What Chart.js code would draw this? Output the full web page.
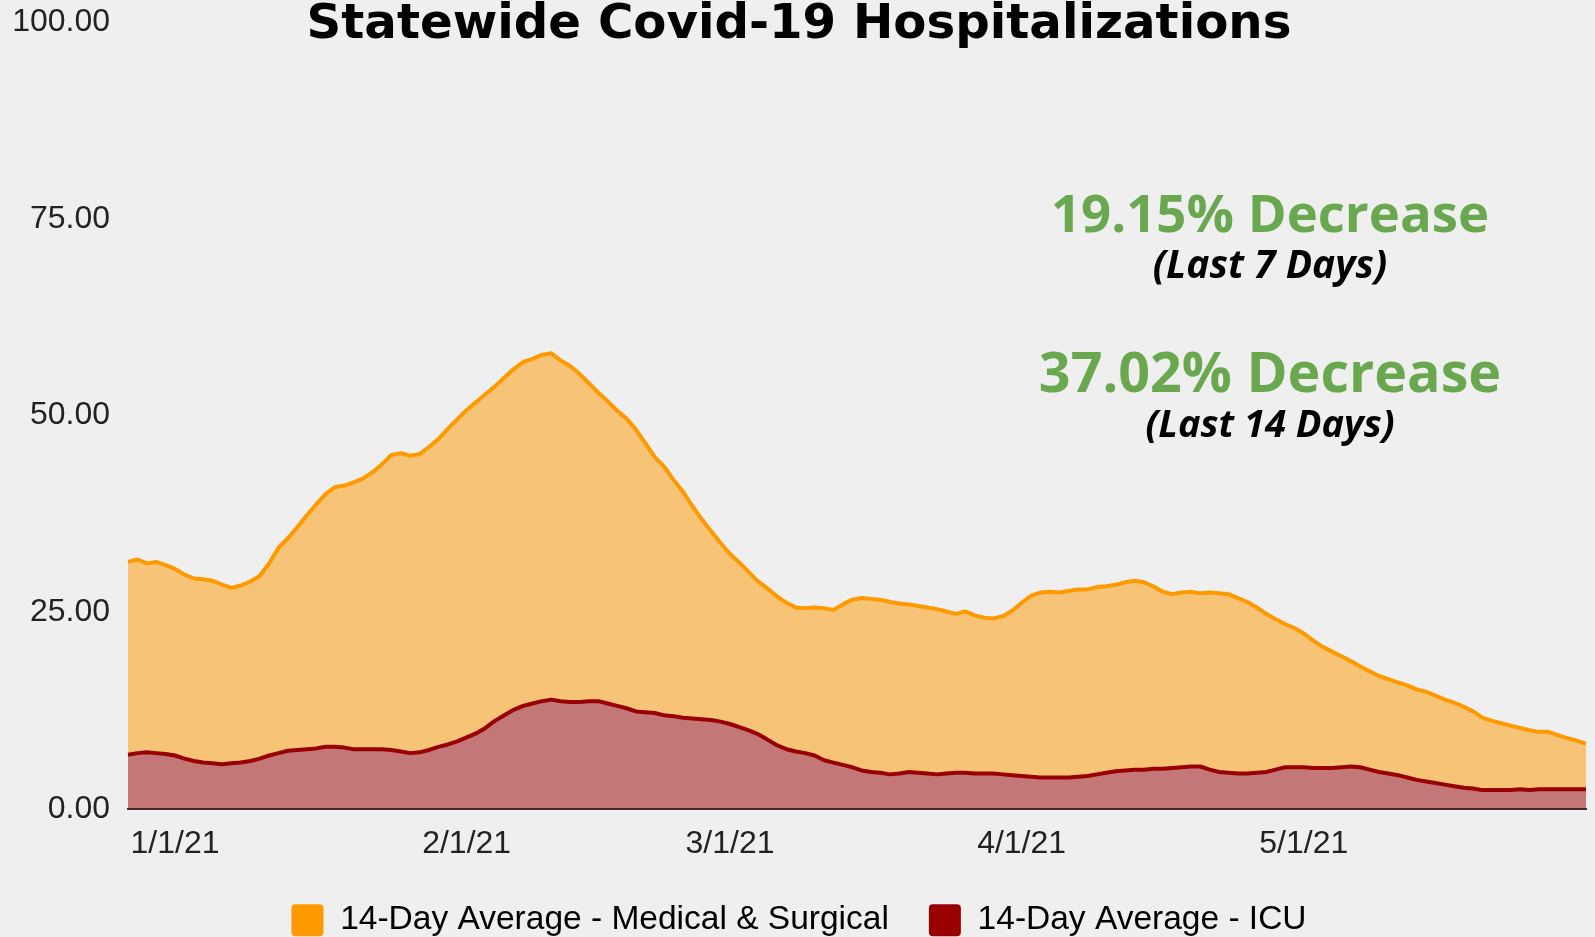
<!DOCTYPE html>
<html>
<head>
<meta charset="utf-8">
<script src="https://cdn.jsdelivr.net/npm/chart.js@4.4.1/dist/chart.umd.min.js"></script>
<style>
  html, body { margin: 0; padding: 0; background: #efefef; }
  #wrap { width: 1595px; height: 937px; }
</style>
</head>
<body>
<div id="wrap"><canvas id="c" width="1595" height="937"></canvas></div>
<script>
// ---- Data ----
const startDate = [2020, 11, 27];   // 12/27/20, one point per day
const tickLabels = ['1/1/21', '2/1/21', '3/1/21', '4/1/21', '5/1/21'];
const yTicks = [0, 25, 50, 75, 100];
const seriesNames = ['14-Day Average - Medical & Surgical', '14-Day Average - ICU'];
const titleText = 'Statewide Covid-19 Hospitalizations';
const noteLines = ['19.15% Decrease', '(Last 7 Days)', '37.02% Decrease', '(Last 14 Days)'];

// upper (orange) line: 14-Day Average - Medical & Surgical (top of stacked area)
const medSurg = [
  31.4,31.7,31.2,31.4,31.0,30.5,29.8,29.3,29.2,29.0,
  28.5,28.1,28.4,28.9,29.6,31.2,33.2,34.4,35.8,37.3,
  38.7,40.0,40.9,41.1,41.5,42.0,42.8,43.8,45.0,45.2,
  44.9,45.1,46.0,47.0,48.3,49.5,50.7,51.7,52.7,53.7,
  54.8,55.9,56.8,57.2,57.7,57.9,57.0,56.3,55.3,54.1,
  52.9,51.8,50.6,49.6,48.2,46.5,44.7,43.5,41.8,40.3,
  38.5,36.8,35.3,33.8,32.4,31.3,30.1,28.9,28.0,27.0,
  26.2,25.6,25.5,25.6,25.5,25.3,26.0,26.6,26.8,26.7,
  26.6,26.3,26.1,26.0,25.8,25.6,25.4,25.1,24.8,25.1,
  24.6,24.3,24.2,24.5,25.2,26.2,27.1,27.5,27.6,27.5,
  27.7,27.9,27.9,28.2,28.3,28.5,28.8,29.0,28.8,28.3,
  27.6,27.3,27.5,27.6,27.4,27.5,27.4,27.3,26.8,26.3,
  25.6,24.8,24.1,23.5,23.0,22.3,21.4,20.6,20.0,19.4,
  18.8,18.1,17.5,16.9,16.5,16.1,15.7,15.2,14.9,14.4,
  13.9,13.5,13.0,12.4,11.6,11.2,10.9,10.6,10.3,10.0,
  9.8,9.8,9.4,9.0,8.7,8.3
];
// lower (dark red) line: 14-Day Average - ICU
const icu = [
  6.9,7.1,7.2,7.1,7.0,6.8,6.4,6.1,5.9,5.8,
  5.7,5.8,5.9,6.1,6.4,6.8,7.1,7.4,7.5,7.6,
  7.7,7.9,7.9,7.8,7.6,7.6,7.6,7.6,7.5,7.3,
  7.1,7.2,7.5,7.9,8.2,8.6,9.1,9.6,10.3,11.2,
  11.9,12.6,13.1,13.4,13.7,13.9,13.7,13.6,13.6,13.7,
  13.7,13.4,13.1,12.8,12.4,12.3,12.2,11.9,11.8,11.6,
  11.5,11.4,11.3,11.1,10.8,10.4,10.0,9.5,8.8,8.1,
  7.6,7.3,7.1,6.8,6.2,5.9,5.6,5.3,4.9,4.7,
  4.6,4.4,4.5,4.7,4.6,4.5,4.4,4.5,4.6,4.6,
  4.5,4.5,4.5,4.4,4.3,4.2,4.1,4.0,4.0,4.0,
  4.0,4.1,4.2,4.4,4.6,4.8,4.9,5.0,5.0,5.1,
  5.1,5.2,5.3,5.4,5.4,5.0,4.7,4.6,4.5,4.5,
  4.6,4.7,5.0,5.3,5.3,5.3,5.2,5.2,5.2,5.3,
  5.4,5.3,5.0,4.7,4.5,4.3,4.0,3.7,3.5,3.3,
  3.1,2.9,2.7,2.6,2.4,2.4,2.4,2.4,2.5,2.4,
  2.5,2.5,2.5,2.5,2.5,2.5
];

// category labels: one per day
const categories = [];
{
  const d = new Date(startDate[0], startDate[1], startDate[2]);
  for (let i = 0; i < medSurg.length; i++) {
    categories.push((d.getMonth() + 1) + '/' + d.getDate() + '/' + String(d.getFullYear()).slice(2));
    d.setDate(d.getDate() + 1);
  }
}

// ---- Styling ----
const ORANGE = '#ff9900', DARKRED = '#990000', GREEN = '#6aa84f', BG = '#efefef';
const AXIS_FONT = 'Liberation Sans, Arial, sans-serif';
const TITLE_FONT = '"DejaVu Sans", sans-serif';
const NOTE_FONT = '"Open Sans", "Noto Sans", sans-serif';

function fitSize(text, weight, style, family, targetWidth) {
  const c = document.createElement('canvas').getContext('2d');
  c.font = style + ' ' + weight + ' 100px ' + family;
  return 100 * targetWidth / c.measureText(text).width;
}
const PLOT_TOP = 22, PLOT_BOTTOM = 809;
const titleSize = fitSize(titleText, 700, 'normal', TITLE_FONT, 985);
const titlePadTop = Math.round(25 - titleSize / 2);
const titlePadBottom = PLOT_TOP - titleSize - titlePadTop;

const LEGEND_PAD = 40, LEGEND_FONT = 33.5;
const legendHeight = Math.max(LEGEND_FONT, 32) + LEGEND_PAD + 10;
const legendTop = 937 + 10 - legendHeight;

const bgPlugin = {
  id: 'bg',
  beforeDraw(chart) {
    const ctx = chart.ctx;
    ctx.save();
    ctx.fillStyle = BG;
    ctx.fillRect(0, 0, chart.width, chart.height);
    ctx.restore();
  }
};

const notesPlugin = {
  id: 'notes',
  afterDraw(chart) {
    const ctx = chart.ctx;
    const spec = [
      { color: GREEN, style: 'normal', width: 438, base: 232 },
      { color: '#000', style: 'italic', width: 234, base: 278 },
      { color: GREEN, style: 'normal', width: 462, base: 392 },
      { color: '#000', style: 'italic', width: 249, base: 437 }
    ];
    ctx.save();
    ctx.textAlign = 'center';
    ctx.textBaseline = 'alphabetic';
    noteLines.forEach((t, i) => {
      const s = spec[i];
      const size = fitSize(t, 700, s.style, NOTE_FONT, s.width);
      ctx.font = s.style + ' 700 ' + size.toFixed(1) + 'px ' + NOTE_FONT;
      ctx.fillStyle = s.color;
      ctx.fillText(t, 1270, s.base);
    });
    ctx.restore();
  }
};

new Chart(document.getElementById('c'), {
  type: 'line',
  data: {
    labels: categories,
    datasets: [
      {
        label: seriesNames[0],
        data: medSurg,
        borderColor: ORANGE,
        backgroundColor: 'rgba(255,153,0,0.5)',
        borderWidth: 4,
        pointRadius: 0,
        fill: '+1',
        tension: 0,
        borderJoinStyle: 'round'
      },
      {
        label: seriesNames[1],
        data: icu,
        borderColor: DARKRED,
        backgroundColor: 'rgba(153,0,0,0.5)',
        borderWidth: 4,
        pointRadius: 0,
        fill: 'origin',
        tension: 0,
        borderJoinStyle: 'round'
      }
    ]
  },
  options: {
    responsive: false,
    animation: false,
    devicePixelRatio: 1,
    layout: { padding: { left: 12, right: 9, top: 0, bottom: -10 } },
    plugins: {
      filler: { drawTime: 'beforeDatasetsDraw' },
      title: {
        display: true,
        text: titleText,
        color: '#000',
        font: { family: TITLE_FONT, size: titleSize, weight: '700', lineHeight: 1 },
        padding: { top: titlePadTop, bottom: titlePadBottom }
      },
      legend: {
        position: 'bottom',
        labels: {
          color: '#222',
          font: { family: AXIS_FONT, size: LEGEND_FONT },
          boxWidth: 32,
          boxHeight: 32,
          padding: LEGEND_PAD,
          useBorderRadius: true,
          borderRadius: 4,
          generateLabels(chart) {
            return chart.data.datasets.map((ds, i) => ({
              text: ds.label,
              fillStyle: ds.borderColor,
              strokeStyle: ds.borderColor,
              lineWidth: 0,
              hidden: false,
              datasetIndex: i,
              borderRadius: 4
            }));
          }
        }
      },
      tooltip: { enabled: false }
    },
    scales: {
      x: {
        type: 'category',
        z: 1,
        grid: { display: false, drawTicks: false },
        border: { display: true, color: '#333', width: 2 },
        ticks: {
          autoSkip: false,
          maxRotation: 0,
          minRotation: 0,
          padding: 16,
          color: '#222',
          font: { family: AXIS_FONT, size: 32 },
          callback(value) {
            const lbl = this.getLabelForValue(value);
            return tickLabels.includes(lbl) ? lbl : null;
          }
        },
        afterFit(scale) { scale.height = legendTop - PLOT_BOTTOM; }
      },
      y: {
        min: yTicks[0],
        max: yTicks[yTicks.length - 1],
        grid: { display: false, drawTicks: false },
        border: { display: false },
        afterBuildTicks(scale) { scale.ticks = yTicks.map(v => ({ value: v })); },
        ticks: {
          padding: 18,
          color: '#222',
          font: { family: AXIS_FONT, size: 32 },
          callback(v) { return Number(v).toFixed(2); }
        },
        afterFit(scale) {
          scale.width = 116;
          scale.paddingTop = 0;
          scale.paddingBottom = 0;
        }
      }
    }
  },
  plugins: [bgPlugin, notesPlugin]
});
</script>
</body>
</html>
